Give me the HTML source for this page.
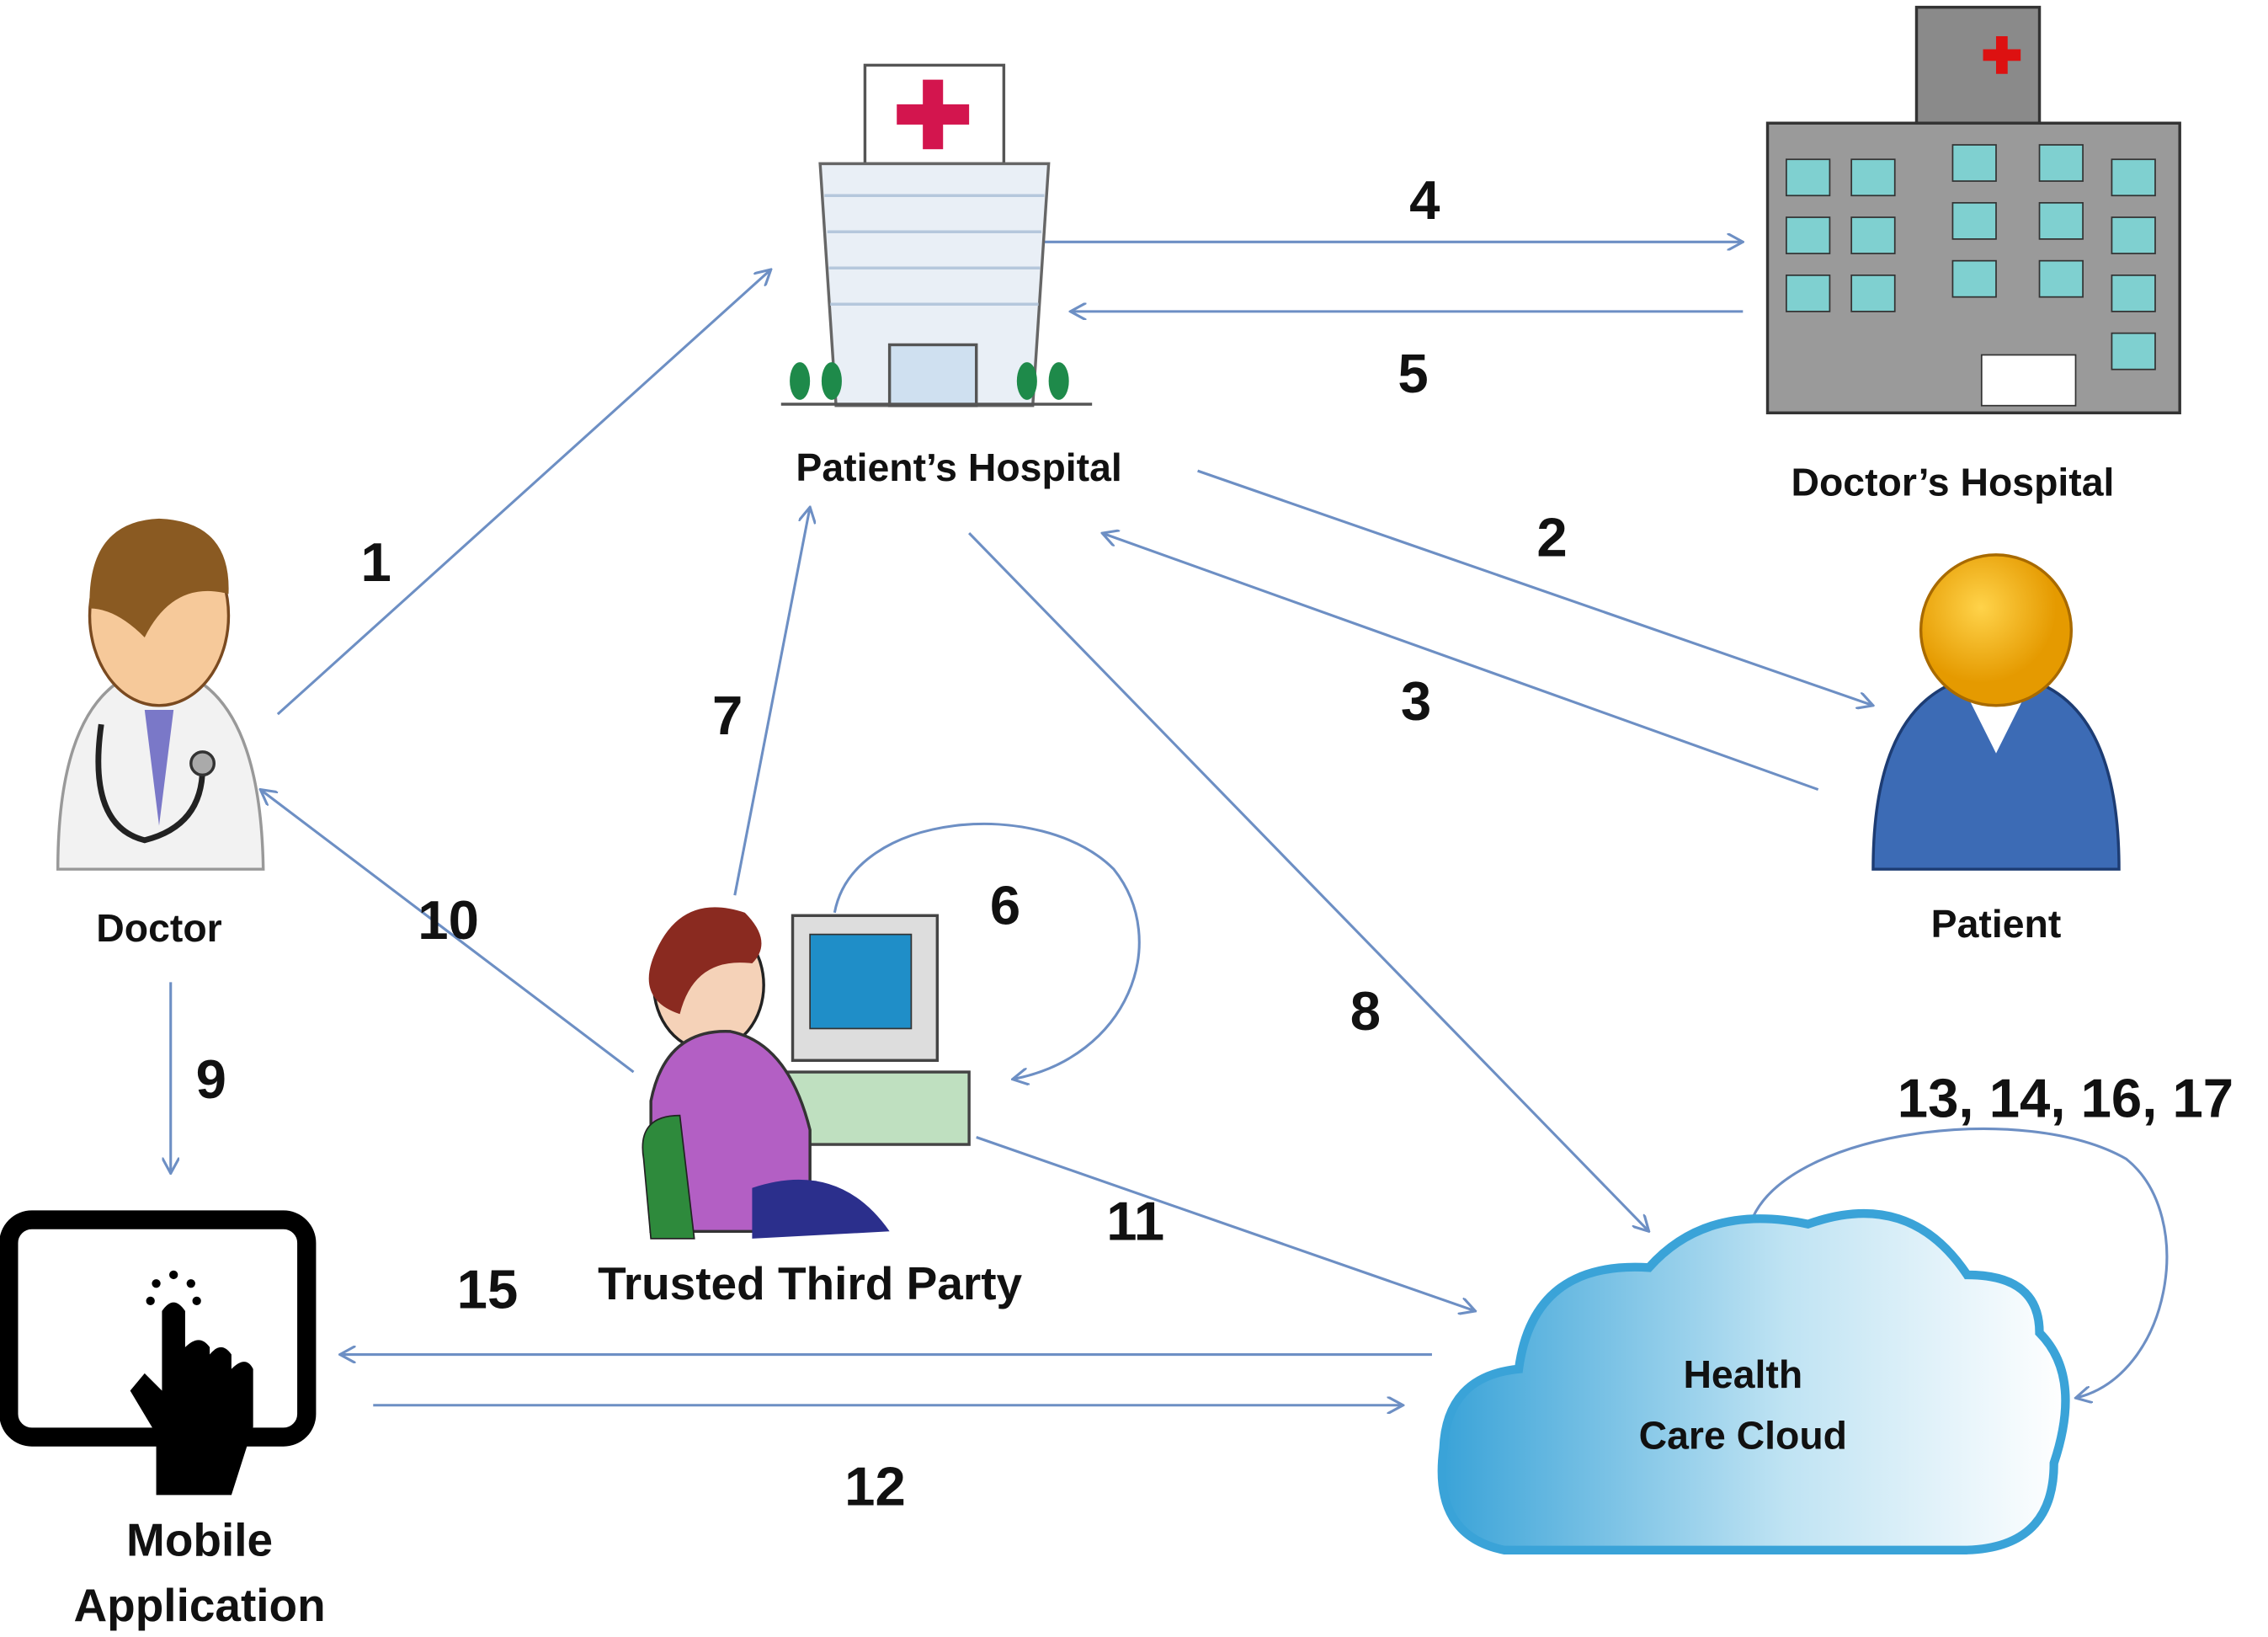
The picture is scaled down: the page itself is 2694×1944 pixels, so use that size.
<!DOCTYPE html>
<html><head><meta charset="utf-8"><style>
html,body{margin:0;padding:0;background:#fff;}
svg{display:block;}
text{font-family:"Liberation Sans",sans-serif;font-weight:bold;fill:#111;}
</style></head><body>
<svg width="2694" height="1944" viewBox="0 0 1568 1130" preserveAspectRatio="none" xmlns="http://www.w3.org/2000/svg">
<defs>
<marker id="a" markerWidth="12" markerHeight="12" refX="11" refY="6" orient="auto" markerUnits="userSpaceOnUse">
<path d="M0,0 L11,6 L0,12" fill="none" stroke="#6d8fc4" stroke-width="1.8"/></marker>
<linearGradient id="cg" x1="0" x2="1"><stop offset="0" stop-color="#3aa3d8"/><stop offset="0.55" stop-color="#bfe3f3"/><stop offset="1" stop-color="#ffffff"/></linearGradient>
<radialGradient id="pg" cx="0.4" cy="0.35"><stop offset="0" stop-color="#ffd34a"/><stop offset="1" stop-color="#e59a00"/></radialGradient>
</defs>
<g stroke="#6d8fc4" stroke-width="1.8" fill="none" marker-end="url(#a)">
<line x1="192" y1="493" x2="533" y2="186"/>
<line x1="828" y1="325" x2="1295" y2="487"/>
<line x1="1257" y1="545" x2="762" y2="368"/>
<line x1="718" y1="167" x2="1205" y2="167"/>
<line x1="1205" y1="215" x2="740" y2="215"/>
<path d="M577,630 C590,560 720,550 770,600 C810,650 780,730 700,745"/>
<line x1="508" y1="618" x2="560" y2="350"/>
<line x1="670" y1="368" x2="1140" y2="850"/>
<line x1="118" y1="678" x2="118" y2="810"/>
<line x1="438" y1="740" x2="180" y2="545"/>
<line x1="675" y1="785" x2="1020" y2="905"/>
<line x1="258" y1="970" x2="970" y2="970"/>
<line x1="990" y1="935" x2="235" y2="935"/>
<path d="M1212,840 C1240,780 1400,760 1470,800 C1520,840 1500,950 1435,965"/>
</g>
<!-- Patient's hospital -->
<rect x="598" y="45" width="96" height="68" fill="#fff" stroke="#555" stroke-width="2"/>
<rect x="638" y="55" width="14" height="48" fill="#d3154e"/><rect x="620" y="72" width="50" height="14" fill="#d3154e"/>
<path d="M567,113 L725,113 L714,280 L578,280 Z" fill="#e9eff6" stroke="#666" stroke-width="2"/>
<g stroke="#b5c7dc" stroke-width="2"><line x1="570" y1="135" x2="722" y2="135"/><line x1="572" y1="160" x2="720" y2="160"/><line x1="573" y1="185" x2="719" y2="185"/><line x1="574" y1="210" x2="718" y2="210"/></g>
<rect x="615" y="238" width="60" height="42" fill="#cfe0f0" stroke="#555" stroke-width="2"/>
<ellipse cx="553" cy="263" rx="7" ry="13" fill="#1e8a4a"/><ellipse cx="575" cy="263" rx="7" ry="13" fill="#1e8a4a"/>
<ellipse cx="710" cy="263" rx="7" ry="13" fill="#1e8a4a"/><ellipse cx="732" cy="263" rx="7" ry="13" fill="#1e8a4a"/>
<line x1="540" y1="279" x2="755" y2="279" stroke="#555" stroke-width="2"/>
<!-- Doctor's hospital -->
<rect x="1325" y="5" width="85" height="80" fill="#8a8a8a" stroke="#333" stroke-width="2"/>
<rect x="1380" y="25" width="8" height="26" fill="#d11"/><rect x="1371" y="34" width="26" height="8" fill="#d11"/>
<rect x="1222" y="85" width="285" height="200" fill="#9a9a9a" stroke="#333" stroke-width="2"/>
<g fill="#7fd0d0" stroke="#333">
<rect x="1235" y="110" width="30" height="25"/><rect x="1235" y="150" width="30" height="25"/><rect x="1235" y="190" width="30" height="25"/>
<rect x="1280" y="110" width="30" height="25"/><rect x="1280" y="150" width="30" height="25"/><rect x="1280" y="190" width="30" height="25"/>
<rect x="1350" y="100" width="30" height="25"/><rect x="1350" y="140" width="30" height="25"/><rect x="1350" y="180" width="30" height="25"/>
<rect x="1410" y="100" width="30" height="25"/><rect x="1410" y="140" width="30" height="25"/><rect x="1410" y="180" width="30" height="25"/>
<rect x="1460" y="110" width="30" height="25"/><rect x="1460" y="150" width="30" height="25"/><rect x="1460" y="190" width="30" height="25"/><rect x="1460" y="230" width="30" height="25"/>
</g>
<rect x="1370" y="245" width="65" height="35" fill="#fff" stroke="#333"/>
<!-- Doctor -->
<path d="M40,600 Q40,470 110,460 Q180,470 182,600 Z" fill="#f2f2f2" stroke="#999" stroke-width="2"/>
<path d="M100,490 L110,570 L120,490 Z" fill="#7a78c8"/>
<path d="M70,500 Q60,570 100,580 Q140,570 140,530" fill="none" stroke="#222" stroke-width="4"/>
<circle cx="140" cy="527" r="8" fill="#aaa" stroke="#333" stroke-width="2"/>
<ellipse cx="110" cy="425" rx="48" ry="62" fill="#f6c99a" stroke="#7a4a20" stroke-width="2"/>
<path d="M62,420 Q60,360 110,358 Q160,360 158,410 Q120,400 100,440 Q80,420 62,420 Z" fill="#8a5a22"/>
<!-- Patient -->
<path d="M1295,600 Q1295,470 1380,465 Q1465,470 1465,600 Z" fill="#3c6bb5" stroke="#1d3c73" stroke-width="2"/>
<path d="M1355,470 L1380,520 L1405,470 Z" fill="#fff"/>
<circle cx="1380" cy="435" r="52" fill="url(#pg)" stroke="#a86a00" stroke-width="2"/>
<!-- Trusted third party -->
<rect x="548" y="632" width="100" height="100" fill="#ddd" stroke="#444" stroke-width="2"/>
<rect x="560" y="645" width="70" height="65" fill="#1f8ec8" stroke="#333"/>
<rect x="535" y="740" width="135" height="50" fill="#bfe0c0" stroke="#444" stroke-width="2"/>
<ellipse cx="490" cy="680" rx="38" ry="45" fill="#f5d2b8" stroke="#222" stroke-width="2"/>
<path d="M452,660 Q470,615 515,630 Q535,650 520,665 Q480,660 470,700 Q440,690 452,660 Z" fill="#8a2a20"/>
<path d="M450,760 Q460,710 505,712 Q545,720 560,780 L560,850 L450,850 Z" fill="#b35fc4" stroke="#333" stroke-width="2"/>
<path d="M445,800 Q440,770 470,770 L480,855 L450,855 Z" fill="#2e8a3c" stroke="#222"/>
<path d="M520,820 Q580,800 615,850 L520,855 Z" fill="#2b2f8c"/>
<!-- Tablet -->
<rect x="6" y="842" width="206" height="150" rx="16" fill="#fff" stroke="#000" stroke-width="13"/>
<path d="M112,905 L112,960 L100,948 L90,960 L108,990 L108,1032 L160,1032 L175,985 L175,945 Q170,935 160,945 L160,935 Q153,925 145,935 L145,930 Q138,920 128,930 L128,905 Q120,893 112,905 Z" fill="#000"/>
<g fill="#000"><circle cx="120" cy="880" r="3"/><circle cx="108" cy="886" r="3"/><circle cx="132" cy="886" r="3"/><circle cx="104" cy="898" r="3"/><circle cx="136" cy="898" r="3"/></g>
<!-- Cloud -->
<path d="M1040,1070 Q990,1060 998,1000 Q1000,950 1050,945 Q1060,870 1140,875 Q1180,830 1250,845 Q1320,820 1360,880 Q1410,880 1410,920 Q1440,950 1420,1010 Q1420,1068 1360,1070 Z" fill="url(#cg)" stroke="#3aa3d8" stroke-width="6"/>
<!-- labels -->
<g font-size="27" text-anchor="middle">
<text x="663" y="332">Patient’s Hospital</text>
<text x="1350" y="342">Doctor’s Hospital</text>
<text x="110" y="650">Doctor</text>
<text x="1380" y="647">Patient</text>
<text x="1205" y="958" fill="#1a2a44">Health</text>
<text x="1205" y="1000" fill="#1a2a44">Care Cloud</text>
</g>
<g font-size="32" text-anchor="middle">
<text x="560" y="897">Trusted Third Party</text>
<text x="138" y="1074">Mobile</text>
<text x="138" y="1119">Application</text>
</g>
<g font-size="38" text-anchor="middle">
<text x="260" y="401">1</text><text x="1073" y="384">2</text><text x="979" y="497">3</text>
<text x="985" y="151">4</text><text x="977" y="271">5</text><text x="695" y="638">6</text>
<text x="503" y="507">7</text><text x="944" y="711">8</text><text x="146" y="758">9</text>
<text x="310" y="648">10</text><text x="785" y="856">11</text><text x="605" y="1039">12</text>
<text x="337" y="903">15</text><text x="1428" y="771">13, 14, 16, 17</text>
</g>
</svg>
</body></html>
